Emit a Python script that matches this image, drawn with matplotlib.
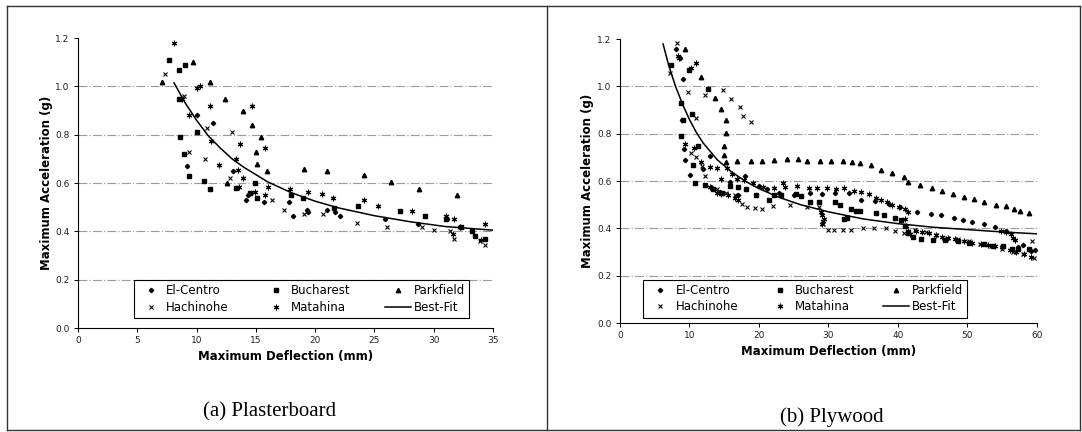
import matplotlib
matplotlib.use("Agg")
import matplotlib.pyplot as plt
from matplotlib.lines import Line2D

# ---- (a) Plasterboard ----
pb_elc_x = [8.7, 9.2, 10.0, 11.4, 13.1, 14.2, 14.3, 14.6, 15.7, 17.8, 18.1, 19.3, 19.4, 21.0, 21.7, 22.1, 25.9, 28.7, 31.1]
pb_elc_y = [0.95, 0.67, 0.88, 0.85, 0.65, 0.53, 0.55, 0.56, 0.52, 0.52, 0.465, 0.49, 0.48, 0.49, 0.48, 0.465, 0.45, 0.43, 0.45]
pb_buc_x = [7.7, 8.55, 9.05, 8.5, 8.6, 8.9, 9.4, 10.0, 10.6, 11.1, 13.3, 14.5, 14.9, 15.1, 18.0, 19.0, 21.6, 23.6, 27.2, 29.3, 31.0, 32.3, 33.2, 33.5, 34.3]
pb_buc_y = [1.11, 1.07, 1.09, 0.95, 0.79, 0.72, 0.63, 0.81, 0.61, 0.575, 0.58, 0.56, 0.60, 0.54, 0.55, 0.54, 0.495, 0.505, 0.485, 0.465, 0.45, 0.42, 0.40, 0.38, 0.37]
pb_par_x = [7.1, 9.7, 11.1, 12.4, 12.6, 13.9, 14.7, 15.0, 15.1, 15.4, 15.9, 19.1, 21.0, 24.1, 26.4, 28.8, 32.0]
pb_par_y = [1.02, 1.10, 1.02, 0.95, 0.60, 0.90, 0.84, 0.73, 0.68, 0.79, 0.65, 0.66, 0.65, 0.635, 0.605, 0.575, 0.55]
pb_hac_x = [7.3, 8.9, 9.4, 10.7, 10.9, 12.8, 13.0, 16.4, 17.4, 19.1, 20.7, 23.5, 26.1, 29.0, 30.0, 31.4, 31.7, 33.9, 34.3]
pb_hac_y = [1.05, 0.96, 0.73, 0.70, 0.83, 0.62, 0.81, 0.53, 0.49, 0.47, 0.47, 0.435, 0.42, 0.42, 0.405, 0.40, 0.37, 0.36, 0.345]
pb_mat_x = [8.1, 8.8, 9.4, 10.0, 10.3, 11.1, 11.2, 11.9, 13.3, 13.5, 13.6, 13.7, 13.9, 14.7, 14.9, 15.8, 15.8, 16.0,
            17.9, 19.4, 20.6, 21.5, 24.1, 25.3, 28.2, 31.0, 31.7, 32.2, 34.3, 31.6, 34.0]
pb_mat_y = [1.18, 0.95, 0.88, 0.995, 1.0, 0.92, 0.775, 0.675, 0.70, 0.655, 0.585, 0.76, 0.62, 0.92, 0.565, 0.745, 0.55, 0.585,
            0.575, 0.565, 0.555, 0.54, 0.53, 0.505, 0.485, 0.465, 0.45, 0.42, 0.43, 0.39, 0.365]
pb_fit_x = [8.1, 9, 10, 11, 12, 13, 14, 15, 16, 18, 20, 22, 25, 28, 31, 35]
pb_fit_y = [1.015, 0.935, 0.86, 0.795, 0.745, 0.70, 0.665, 0.635, 0.605, 0.56, 0.525, 0.497, 0.465, 0.44, 0.42, 0.405]

# ---- (b) Plywood ----
py_elc_x = [8.0, 8.6, 9.1, 8.9, 9.2, 9.4, 10.1, 12.0, 12.9, 13.1, 14.4, 15.8, 17.0, 18.0, 20.0, 21.2, 22.9, 25.0, 27.3, 29.0,
            31.0, 33.0, 34.7, 36.7, 38.7, 40.3, 42.7, 44.7, 46.2, 48.0, 49.3, 50.7, 52.4, 54.0, 55.6, 57.3, 58.0, 59.1, 59.7]
py_elc_y = [1.16, 1.12, 1.03, 0.86, 0.735, 0.69, 0.625, 0.65, 0.705, 0.575, 0.555, 0.595, 0.54, 0.62, 0.58, 0.565, 0.55, 0.54, 0.55, 0.545,
            0.55, 0.55, 0.52, 0.515, 0.505, 0.49, 0.47, 0.462, 0.455, 0.445, 0.435, 0.427, 0.417, 0.405, 0.39, 0.32, 0.33, 0.305, 0.31]
py_buc_x = [7.3, 8.8, 8.8, 9.0, 9.9, 10.4, 10.5, 10.8, 11.2, 12.2, 12.7, 13.4, 14.7, 15.9, 17.0, 18.2, 19.5, 21.4, 22.2, 23.1,
            25.3, 26.0, 27.3, 28.6, 30.9, 31.6, 32.2, 32.7, 33.3, 34.0, 34.6, 36.8, 38.0, 39.5, 40.4, 41.0, 41.4, 42.1, 43.3, 45.0,
            46.7, 48.6, 50.2, 52.4, 53.6, 55.1, 56.4, 57.3, 58.8]
py_buc_y = [1.09, 0.93, 0.79, 0.86, 1.07, 0.885, 0.67, 0.59, 0.75, 0.585, 0.99, 0.565, 0.55, 0.58, 0.575, 0.565, 0.54, 0.52, 0.54, 0.54,
            0.545, 0.535, 0.51, 0.51, 0.51, 0.50, 0.44, 0.445, 0.48, 0.475, 0.475, 0.465, 0.455, 0.445, 0.435, 0.41, 0.38, 0.365, 0.355, 0.35,
            0.35, 0.345, 0.34, 0.335, 0.325, 0.325, 0.315, 0.315, 0.315]
py_par_x = [9.4, 11.6, 13.6, 14.6, 15.2, 15.3, 14.9, 15.0, 15.3, 16.9, 18.9, 20.4, 22.1, 24.0, 25.6, 26.9, 28.8, 30.4, 32.1, 33.4,
            34.5, 36.1, 37.6, 39.1, 40.8, 41.4, 43.2, 44.9, 46.3, 47.9, 49.5, 50.9, 52.4, 54.1, 55.5, 56.7, 57.5, 58.9]
py_par_y = [1.16, 1.04, 0.95, 0.905, 0.86, 0.805, 0.75, 0.71, 0.68, 0.683, 0.687, 0.687, 0.69, 0.692, 0.692, 0.687, 0.687, 0.687, 0.687, 0.682,
            0.676, 0.666, 0.649, 0.634, 0.617, 0.598, 0.585, 0.572, 0.558, 0.546, 0.532, 0.523, 0.513, 0.501, 0.493, 0.482, 0.473, 0.465]
py_hac_x = [7.2, 8.2, 9.8, 11.0, 12.2, 14.8, 16.0, 17.2, 17.7, 18.9, 10.2, 11.0, 11.8, 12.3, 13.9, 15.2, 16.5, 17.6, 18.3, 19.4,
            20.5, 22.0, 24.4, 26.9, 28.6, 29.2, 29.9, 30.8, 32.1, 33.3, 34.9, 36.6, 38.3, 39.5, 40.8, 42.5, 44.0, 45.5, 47.0, 48.6,
            50.2, 51.8, 53.4, 55.0, 56.6, 58.0, 59.3, 59.5]
py_hac_y = [1.055, 1.185, 0.975, 0.865, 0.965, 0.985, 0.945, 0.915, 0.875, 0.85, 0.72, 0.70, 0.665, 0.62, 0.565, 0.55, 0.54, 0.505, 0.49, 0.485,
            0.48, 0.495, 0.50, 0.49, 0.49, 0.42, 0.395, 0.395, 0.395, 0.395, 0.40, 0.40, 0.40, 0.39, 0.38, 0.395, 0.385, 0.37, 0.36, 0.355,
            0.345, 0.335, 0.325, 0.315, 0.30, 0.29, 0.345, 0.275]
py_mat_x = [8.3, 8.5, 10.2, 10.9, 9.4, 10.6, 11.6, 12.9, 13.9, 14.6, 15.4, 16.1, 16.9, 17.8, 19.2, 20.6, 22.2, 23.5, 23.8, 25.4,
            27.2, 28.4, 29.8, 31.1, 32.3, 33.7, 34.7, 35.9, 36.9, 37.6, 38.4, 39.2, 40.2, 41.0, 41.4, 41.0, 41.2, 41.5, 41.7, 42.6,
            43.5, 44.5, 45.4, 46.3, 47.2, 48.2, 49.5, 50.7, 51.9, 53.0, 54.0, 55.0, 56.1, 57.0, 58.1, 59.2, 28.9, 29.1, 29.3, 29.2,
            29.0, 54.8, 55.6, 56.2, 56.6, 56.9, 13.0, 14.0, 14.5, 15.5, 16.5, 17.0]
py_mat_y = [1.13, 1.12, 1.08, 1.10, 0.755, 0.74, 0.68, 0.66, 0.655, 0.61, 0.655, 0.63, 0.61, 0.605, 0.59, 0.575, 0.57, 0.59, 0.575, 0.58,
            0.57, 0.57, 0.57, 0.565, 0.57, 0.56, 0.555, 0.545, 0.53, 0.52, 0.51, 0.50, 0.49, 0.48, 0.47, 0.44, 0.41, 0.39, 0.375, 0.39,
            0.385, 0.38, 0.37, 0.365, 0.36, 0.355, 0.345, 0.34, 0.335, 0.33, 0.325, 0.32, 0.31, 0.30, 0.29, 0.28, 0.47, 0.455, 0.44, 0.43,
            0.42, 0.39, 0.385, 0.375, 0.36, 0.35, 0.575, 0.55, 0.545, 0.54, 0.53, 0.52]
py_fit_x = [6.2, 7, 8, 9, 10, 11, 12, 14, 16, 18, 20, 23, 26, 30, 35, 40, 45, 50, 55, 60]
py_fit_y = [1.18, 1.09, 1.0, 0.925, 0.86, 0.805, 0.76, 0.69, 0.64, 0.60, 0.568, 0.53, 0.50, 0.47, 0.44, 0.42, 0.405, 0.395, 0.385, 0.377]

labels = ['El-Centro', 'Bucharest', 'Parkfield', 'Hachinohe', 'Matahina', 'Best-Fit']
styles = [dict(marker='D', ms=2.2), dict(marker='s', ms=2.8), dict(marker='^', ms=3.2),
          dict(marker='x', ms=3.2, mew=0.8), dict(marker=(6, 2, 0), ms=4, mew=0.8)]

fig = plt.figure(figsize=(10.82, 4.32), dpi=100)
ax1 = fig.add_axes([0.0721, 0.2407, 0.3835, 0.671])
ax2 = fig.add_axes([0.573, 0.2523, 0.3854, 0.657])

panels = [
    (ax1, [(pb_elc_x, pb_elc_y), (pb_buc_x, pb_buc_y), (pb_par_x, pb_par_y), (pb_hac_x, pb_hac_y), (pb_mat_x, pb_mat_y)],
     (pb_fit_x, pb_fit_y), 35, 5, (0.134, 0.034, 0.808, 0.116)),
    (ax2, [(py_elc_x, py_elc_y), (py_buc_x, py_buc_y), (py_par_x, py_par_y), (py_hac_x, py_hac_y), (py_mat_x, py_mat_y)],
     (py_fit_x, py_fit_y), 60, 10, (0.055, 0.019, 0.777, 0.1375)),
]

for ax, series, fit, xmax, xstep, legbox in panels:
    for (xs, ys), st in zip(series, styles):
        ax.plot(xs, ys, ls='none', color='black', **st)
    ax.plot(fit[0], fit[1], color='black', lw=1.1)
    ax.set_xlim(0, xmax)
    ax.set_ylim(0, 1.2)
    ax.set_xticks(range(0, xmax + 1, xstep))
    ax.set_yticks([0.0, 0.2, 0.4, 0.6, 0.8, 1.0, 1.2])
    ax.set_yticklabels(['0.0', '0.2', '0.4', '0.6', '0.8', '1.0', '1.2'])
    for g in [0.2, 0.4, 0.6, 0.8, 1.0]:
        ax.axhline(g, color='#9a9a9a', lw=0.8, ls=(0, (8, 2, 1, 2)), zorder=0)
    for s in ['top', 'right']:
        ax.spines[s].set_visible(False)
    for s in ['left', 'bottom']:
        ax.spines[s].set_linewidth(0.8)
    ax.tick_params(direction='out', length=3, width=0.7, labelsize=6.5, pad=3, labelcolor='#222222')
    ax.set_xlabel('Maximum Deflection (mm)', fontsize=8.5, fontweight='bold', labelpad=3)
    ax.set_ylabel('Maximum Acceleration (g)', fontsize=8.5, fontweight='bold', labelpad=2)

    handles = [Line2D([], [], ls='none', color='black', **st) for st in styles]
    handles.append(Line2D([], [], color='black', lw=1.1))
    order = [0, 3, 1, 4, 2, 5]
    leg = ax.legend([handles[i] for i in order], [labels[i] for i in order], ncol=3, loc='lower left',
                    bbox_to_anchor=legbox, mode='expand', borderaxespad=0, fancybox=False, edgecolor='black',
                    framealpha=1, fontsize=8.5, handlelength=2.2, handletextpad=0.2, numpoints=1,
                    borderpad=0.35, labelspacing=0.3)
    leg.get_frame().set_linewidth(0.8)

fig.text(0.249, 0.047, '(a) Plasterboard', family='Liberation Serif', fontsize=15, ha='center', va='center')
fig.text(0.769, 0.035, '(b) Plywood', family='Liberation Serif', fontsize=15, ha='center', va='center')

# panel frames
fw, fh = 1082.0, 432.0
fig.add_artist(Line2D([7 / fw, 1080 / fw], [1 - 6 / fh, 1 - 6 / fh], color='#333333', lw=1))
fig.add_artist(Line2D([7 / fw, 1080 / fw], [1 - 430 / fh, 1 - 430 / fh], color='#333333', lw=1))
fig.add_artist(Line2D([7 / fw, 7 / fw], [1 - 6 / fh, 1 - 430 / fh], color='#333333', lw=1))
fig.add_artist(Line2D([547 / fw, 547 / fw], [1 - 6 / fh, 1 - 430 / fh], color='#333333', lw=1))
fig.add_artist(Line2D([1080 / fw, 1080 / fw], [1 - 6 / fh, 1 - 430 / fh], color='#333333', lw=1))

fig.savefig('out.png', dpi=100)
